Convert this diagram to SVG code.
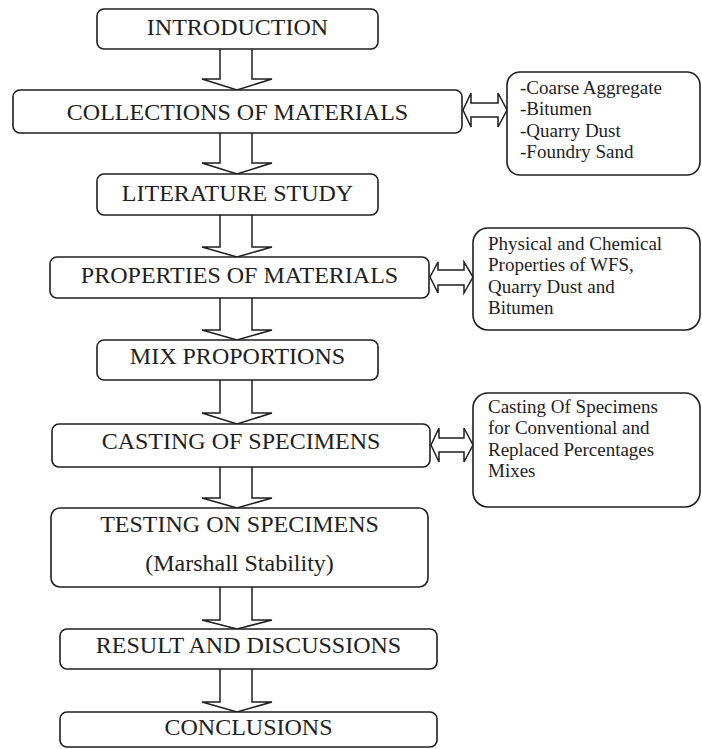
<svg xmlns="http://www.w3.org/2000/svg" width="702" height="749" viewBox="0 0 702 749">
<style>
.box{fill:#fff;stroke:#1e1e1e;stroke-width:1.6}
.arr{fill:#fff;stroke:#1e1e1e;stroke-width:1.5;stroke-linejoin:miter}
.t{font-family:"Liberation Serif","Times New Roman",serif;font-size:24px;fill:#1e1e1e;text-anchor:middle}
.s{font-family:"Liberation Serif","Times New Roman",serif;font-size:19px;fill:#1e1e1e}
</style>
<rect width="702" height="749" fill="#fff"/>
<g id="connectors">
<path class="arr" d="M220,49 V79 H202 L237,90 L272,79 H252 V49"/>
<path class="arr" d="M220,133 V163 H202 L237,174 L272,163 H252 V133"/>
<path class="arr" d="M220,215 V247 H202 L237,257 L272,247 H252 V215"/>
<path class="arr" d="M220,298 V330 H202 L237,340 L272,330 H252 V298"/>
<path class="arr" d="M220,380 V413 H202 L237,424 L272,413 H252 V380"/>
<path class="arr" d="M220,467 V498 H202 L237,508 L272,498 H252 V467"/>
<path class="arr" d="M220,587 V620 H202 L237,629 L272,620 H252 V587"/>
<path class="arr" d="M220,669 V702 H202 L237,712 L272,702 H252 V669"/>
<polygon class="arr" points="463,110 471,93 471,103 498,103 498,93 507,110 498,127 498,117 471,117 471,127"/>
<polygon class="arr" points="430,277 438,262 438,270 464,270 464,262 473,277 464,293 464,285 438,285 438,293"/>
<polygon class="arr" points="431,445 439,428 439,438 464,438 464,428 473,445 464,462 464,452 439,452 439,462"/>
</g>
<g id="introduction"><rect class="box" x="97" y="9" width="281" height="40" rx="7"/><text class="t" x="237.5" y="34.5">INTRODUCTION</text></g>
<g id="collections"><rect class="box" x="13" y="90" width="449" height="43" rx="7"/><text class="t" x="237.5" y="120">COLLECTIONS OF MATERIALS</text></g>
<g id="materials-list"><rect class="box" x="507" y="72" width="193" height="103" rx="13"/>
<text class="s" x="520" y="94">-Coarse Aggregate</text>
<text class="s" x="520" y="115.3">-Bitumen</text>
<text class="s" x="520" y="136.6">-Quarry Dust</text>
<text class="s" x="520" y="157.9">-Foundry Sand</text></g>
<g id="literature"><rect class="box" x="97" y="174" width="281" height="41" rx="7"/><text class="t" x="237.5" y="201">LITERATURE STUDY</text></g>
<g id="properties"><rect class="box" x="50" y="257" width="379" height="41" rx="7"/><text class="t" x="239.5" y="283">PROPERTIES OF MATERIALS</text></g>
<g id="properties-note"><rect class="box" x="473" y="228" width="227" height="102" rx="15"/>
<text class="s" x="488" y="250">Physical and Chemical</text>
<text class="s" x="488" y="271.3">Properties of WFS,</text>
<text class="s" x="488" y="292.6">Quarry Dust and</text>
<text class="s" x="488" y="313.9">Bitumen</text></g>
<g id="mix"><rect class="box" x="97" y="340" width="281" height="40" rx="7"/><text class="t" x="237.5" y="364">MIX PROPORTIONS</text></g>
<g id="casting"><rect class="box" x="52" y="424" width="378" height="43" rx="7"/><text class="t" x="241" y="449">CASTING OF SPECIMENS</text></g>
<g id="casting-note"><rect class="box" x="473" y="393" width="227" height="114" rx="15"/>
<text class="s" x="488" y="413">Casting Of Specimens</text>
<text class="s" x="488" y="434.3">for Conventional and</text>
<text class="s" x="488" y="455.6">Replaced Percentages</text>
<text class="s" x="488" y="476.9">Mixes</text></g>
<g id="testing"><rect class="box" x="51" y="508" width="377" height="79" rx="9"/><text class="t" x="239.5" y="532">TESTING ON SPECIMENS</text><text class="t" x="239.5" y="571">(Marshall Stability)</text></g>
<g id="result"><rect class="box" x="60" y="629" width="377" height="40" rx="7"/><text class="t" x="248.5" y="653">RESULT AND DISCUSSIONS</text></g>
<g id="conclusions"><rect class="box" x="60" y="712" width="377" height="35" rx="7"/><text class="t" x="248.5" y="735">CONCLUSIONS</text></g>
</svg>
